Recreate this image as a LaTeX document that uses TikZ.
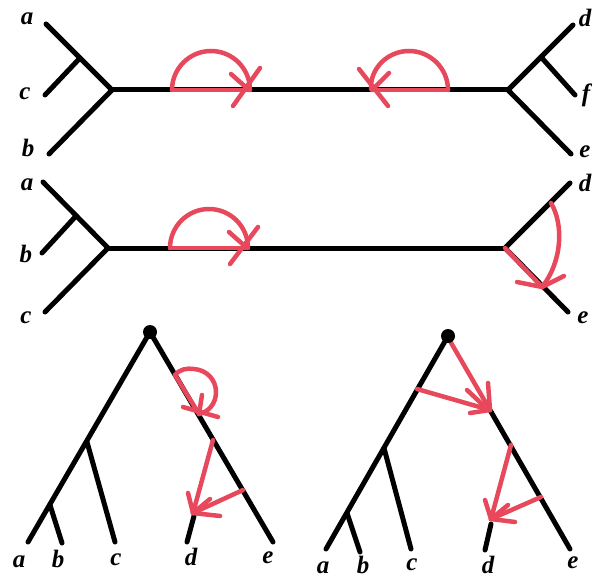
\documentclass[tikz,border=0pt]{standalone}
\usepackage{fontspec}
\setmainfont{Liberation Serif}
\definecolor{myred}{RGB}{232,72,92}
\begin{document}
\begin{tikzpicture}[x=1pt,y=-1pt,
  tree/.style={line width=5pt, line cap=round, line join=round},
  redl/.style={draw=myred, line width=4.5pt, line cap=round, line join=round},
  lbl/.style={anchor=base, inner sep=0pt, font=\fontsize{25}{25}\selectfont\bfseries\itshape},
  rootdot/.style={circle, fill=black, inner sep=0pt, minimum size=14pt}]
\useasboundingbox (0,0) rectangle (593,577);

% ---------- Panel 1 ----------
\coordinate (p1a) at (46,24);
\coordinate (p1ac) at (80,58);
\coordinate (p1c) at (45,95);
\coordinate (p1L) at (112,90);
\coordinate (p1b) at (49,154);
\coordinate (p1R) at (508,90);
\coordinate (p1df) at (541,57);
\coordinate (p1d) at (573,25);
\coordinate (p1f) at (575,95);
\coordinate (p1e) at (571,154);
\draw[tree] (p1a) -- (p1L) -- (p1b);
\draw[tree] (p1ac) -- (p1c);
\draw[tree] (p1L) -- (p1R);
\draw[tree] (p1d) -- (p1R) -- (p1e);
\draw[tree] (p1df) -- (p1f);
\node[lbl] (l1a) at (27,25) {a};
\node[lbl] (l1c) at (25,100) {c};
\node[lbl] (l1b) at (28,157) {b};
\node[lbl] (l1d) at (585,27) {d};
\node[lbl] (l1f) at (586,102) {f};
\node[lbl] (l1e) at (585,158) {e};

% rotation symbols panel 1
\coordinate (r1s) at (172,90);
\coordinate (r1t) at (249,90);
\draw[redl] (r1s) -- (r1t);
\draw[redl] (r1s) .. controls (172,68.5) and (189.5,51) .. (211,51)
                 .. controls (232.5,51) and (250,68.5) .. (250,90);
\coordinate (r1h1) at (231,74);
\coordinate (r1h2) at (233,106);
\coordinate (r1h3) at (260,68);
\draw[redl] (r1h1) -- (r1t);
\draw[redl] (r1h2) -- (r1h3);

\coordinate (r2s) at (448,90);
\coordinate (r2t) at (372,90);
\draw[redl] (r2s) -- (r2t);
\draw[redl] (r2s) .. controls (448,68.5) and (430.5,51) .. (409,51)
                 .. controls (387.5,51) and (370,68.5) .. (371,89);
\coordinate (r2h1) at (389,73);
\coordinate (r2h2) at (388,106);
\coordinate (r2h3) at (359,69);
\draw[redl] (r2h1) -- (r2t);
\draw[redl] (r2h2) -- (r2h3);

% ---------- Panel 2 ----------
\coordinate (p2a) at (43,182);
\coordinate (p2ab) at (76,216);
\coordinate (p2b) at (42,253);
\coordinate (p2L) at (108,248);
\coordinate (p2c) at (45,312);
\coordinate (p2R) at (505,248);
\coordinate (p2d) at (570,183);
\coordinate (p2e) at (568,312);
\draw[tree] (p2a) -- (p2L) -- (p2c);
\draw[tree] (p2ab) -- (p2b);
\draw[tree] (p2L) -- (p2R);
\draw[tree] (p2d) -- (p2R) -- (p2e);
\node[lbl] (l2a) at (27,190) {a};
\node[lbl] (l2b) at (26,262) {b};
\node[lbl] (l2c) at (26,323) {c};
\node[lbl] (l2d) at (585,192) {d};
\node[lbl] (l2e) at (583,323) {e};

\coordinate (r3s) at (170,248);
\coordinate (r3t) at (247,248);
\draw[redl] (r3s) -- (r3t);
\draw[redl] (r3s) .. controls (170,226.5) and (187.5,209) .. (209,209)
                 .. controls (230.5,209) and (248,226.5) .. (248,248);
\coordinate (r3h1) at (229,232);
\coordinate (r3h2) at (230,264);
\coordinate (r3h3) at (258,227);
\draw[redl] (r3h1) -- (r3t);
\draw[redl] (r3h2) -- (r3h3);

\coordinate (r4t) at (542,287);
\coordinate (r4s) at (551,203);
\draw[redl] (p2R) -- (r4t);
\draw[redl] (r4s) .. controls (564,225) and (562,262) .. (r4t);
\coordinate (r4h1) at (517,282);
\coordinate (r4h2) at (564,276);
\draw[redl] (r4h1) -- (r4t) -- (r4h2);

% ---------- Panel 3 ----------
\coordinate (p3r) at (150,332);
\coordinate (p3a) at (28,542);
\coordinate (p3cn) at (87,442);
\coordinate (p3c) at (115,542);
\coordinate (p3bn) at (50,505);
\coordinate (p3b) at (62,543);
\coordinate (p3e) at (273,542);
\coordinate (p3dt) at (194,516);
\coordinate (p3d) at (187,542);
\draw[tree] (p3a) -- (p3r) -- (p3e);
\draw[tree] (p3cn) -- (p3c);
\draw[tree] (p3bn) -- (p3b);
\draw[tree] (p3dt) -- (p3d);
\node[rootdot] (root3) at (p3r) {};
\node[lbl] (l3a) at (19,567) {a};
\node[lbl] (l3b) at (58,567) {b};
\node[lbl] (l3c) at (116,565) {c};
\node[lbl] (l3d) at (191,565) {d};
\node[lbl] (l3e) at (268,563) {e};

\coordinate (r5s) at (175,375);
\coordinate (r5t) at (199,414);
\draw[redl] (r5s) -- (r5t);
\draw[redl] (r5s) .. controls (180,369) and (187,368) .. (194,369)
                 .. controls (207,370) and (216,380) .. (216,392)
                 .. controls (216,403) and (209,412) .. (r5t);
\coordinate (r5h1) at (202,395);
\coordinate (r5h2) at (183,407);
\coordinate (r5h3) at (218,417);
\draw[redl] (r5h1) -- (r5t);
\draw[redl] (r5h2) -- (r5h3);

\coordinate (r6a) at (213,440);
\coordinate (r6b) at (243,490);
\coordinate (r6t) at (193,513);
\draw[redl] (r6a) -- (r6t);
\draw[redl] (r6b) -- (r6t);
\coordinate (r6h1) at (188,493);
\coordinate (r6h2) at (210,499);
\coordinate (r6h3) at (220,516);
\draw[redl] (r6h1) -- (r6t);
\draw[redl] (r6h2) -- (r6t);
\draw[redl] (r6h3) -- (r6t);

% ---------- Panel 4 ----------
\coordinate (p4r) at (448,336);
\coordinate (p4a) at (326,549);
\coordinate (p4cn) at (384,448);
\coordinate (p4c) at (411,549);
\coordinate (p4bn) at (347,513);
\coordinate (p4b) at (360,552);
\coordinate (p4en) at (490,410);
\coordinate (p4e) at (570,549);
\coordinate (p4dt) at (491,524);
\coordinate (p4d) at (485,550);
\coordinate (p4l) at (417,389);
\draw[tree] (p4r) -- (p4a);
\draw[tree] (p4cn) -- (p4c);
\draw[tree] (p4bn) -- (p4b);
\draw[tree] (p4en) -- (p4e);
\draw[tree] (p4dt) -- (p4d);
\node[lbl] (l4a) at (323,573) {a};
\node[lbl] (l4b) at (363,573) {b};
\node[lbl] (l4c) at (412,570) {c};
\node[lbl] (l4d) at (488,573) {d};
\node[lbl] (l4e) at (573,568) {e};

\coordinate (r7s) at (450,341);
\draw[redl] (r7s) -- (p4en);
\draw[redl] (p4l) -- (p4en);
\coordinate (r7h1) at (488,383);
\coordinate (r7h2) at (467,390);
\coordinate (r7h3) at (470,413);
\draw[redl] (r7h1) -- (p4en);
\draw[redl] (r7h2) -- (483,405);
\draw[redl] (r7h3) -- (p4en);
\node[rootdot] (root4) at (p4r) {};

\coordinate (r8a) at (511,445);
\coordinate (r8b) at (541,497);
\coordinate (r8t) at (491,519);
\draw[redl] (r8a) -- (r8t);
\draw[redl] (r8b) -- (r8t);
\coordinate (r8h1) at (485,500);
\coordinate (r8h2) at (508,505);
\coordinate (r8h3) at (515,522);
\draw[redl] (r8h1) -- (r8t);
\draw[redl] (r8h2) -- (r8t);
\draw[redl] (r8h3) -- (r8t);
\end{tikzpicture}
\end{document}
